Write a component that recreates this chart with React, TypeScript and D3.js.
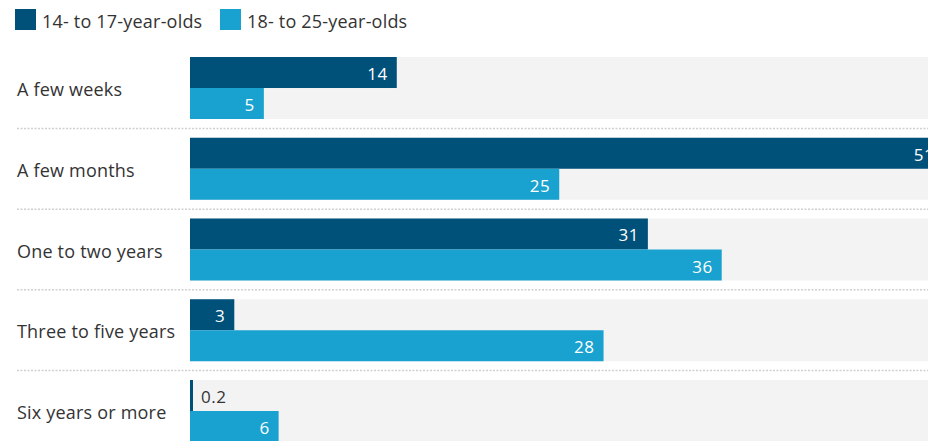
import React from "react";
import * as d3 from "d3";

const categories = ["A few weeks", "A few months", "One to two years", "Three to five years", "Six years or more"];
const seriesNames = ["14- to 17-year-olds", "18- to 25-year-olds"];
const teens = [14, 51, 31, 3, 0.2];
const youngAdults = [5, 25, 36, 28, 6];
const seriesColors = ["#00517a", "#19a2cf"];

const W = 928;
const H = 441;
const FONT = "'Open Sans', sans-serif";

export default function App() {
  const values = [teens, youngAdults];
  const x = d3.scaleLinear().domain([0, 55]).range([190, 190 + 55 * 14.77]);
  const y = d3
    .scaleBand<string>()
    .domain(categories)
    .range([57, 57 + 4 * 80.75 + 62])
    .paddingInner(0.232)
    .paddingOuter(0);
  const sub = d3.scaleBand<number>().domain([0, 1]).range([0, y.bandwidth()]).padding(0);
  const gap = (y.step() - y.bandwidth()) / 2;

  return (
    <svg
      width={W}
      height={H}
      style={{ position: "absolute", left: 0, top: 0, overflow: "hidden", background: "#fff" }}
      fontFamily={FONT}
    >
      {/* legend */}
      {seriesNames.map((s, i) => {
        const lx = i === 0 ? 15 : 220;
        return (
          <g key={s}>
            <rect x={lx} y={9} width={21} height={21} fill={seriesColors[i]} />
            <text x={lx + 27} y={21} dominantBaseline="central" fontSize={18} letterSpacing={0.2} fill="#333">
              {s}
            </text>
          </g>
        );
      })}
      {categories.map((c, ci) => {
        const y0 = y(c)!;
        return (
          <g key={c}>
            <rect x={x(0)} y={y0} width={x.range()[1] - x(0)} height={y.bandwidth()} fill="#f3f3f3" />
            <text
              x={17}
              y={y0 + y.bandwidth() / 2 + 1}
              dominantBaseline="central"
              fontSize={18}
              letterSpacing={0.2}
              fill="#333"
            >
              {c}
            </text>
            {values.map((vals, si) => {
              const v = vals[ci];
              const by = y0 + sub(si)!;
              const bw = Math.max(x(v) - x(0), 3);
              const inside = bw > 30;
              return (
                <g key={si}>
                  <rect x={x(0)} y={by} width={bw} height={sub.bandwidth()} fill={seriesColors[si]} />
                  <text
                    x={inside ? x(v) - 9 : x(0) + bw + 8}
                    y={by + sub.bandwidth() / 2 + 1}
                    dominantBaseline="central"
                    textAnchor={inside ? "end" : "start"}
                    fontSize={17}
                    letterSpacing={0.5}
                    fill={inside ? "#fff" : "#333"}
                  >
                    {v}
                  </text>
                </g>
              );
            })}
            {ci < categories.length - 1 && (
              <line
                x1={17}
                x2={W}
                y1={y0 + y.bandwidth() + gap}
                y2={y0 + y.bandwidth() + gap}
                stroke="#d0d0d0"
                strokeWidth={1.5}
                strokeDasharray="2,1.5"
              />
            )}
          </g>
        );
      })}
    </svg>
  );
}
